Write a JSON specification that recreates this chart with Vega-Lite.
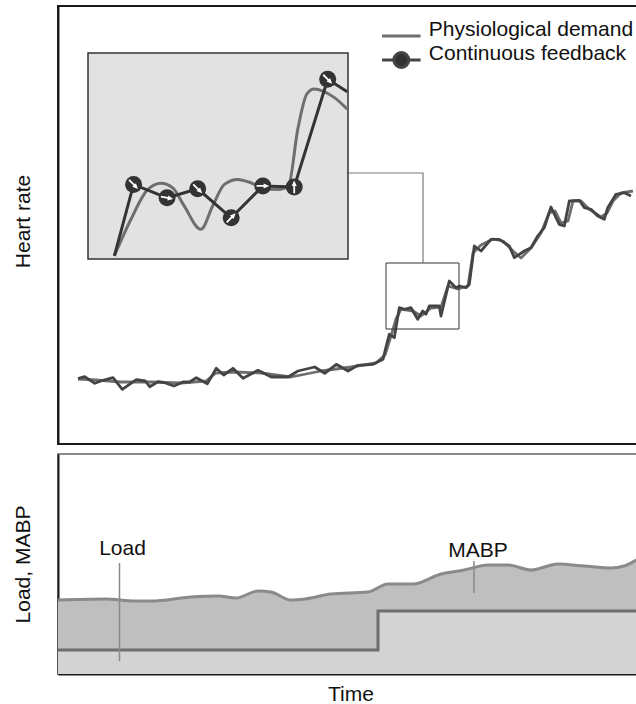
{
  "$schema": "https://vega.github.io/schema/vega-lite/v6.json",
  "padding": {"left": 11, "top": 5, "right": 0, "bottom": 0},
  "spacing": 8,
  "config": {
    "font": "Liberation Sans",
    "view": {"stroke": null},
    "axis": {"grid": false, "labels": false, "ticks": false, "titleFontSize": 21, "titleFontWeight": "normal", "titleColor": "#111111", "domainColor": "#1a1a1a", "domainWidth": 2, "zindex": 1}
  },
  "datasets": {
    "hr": [
      {"t": 20, "hr": 65, "series": "Physiological demand"},
      {"t": 38, "hr": 64, "series": "Physiological demand"},
      {"t": 63, "hr": 62, "series": "Physiological demand"},
      {"t": 93, "hr": 62, "series": "Physiological demand"},
      {"t": 123, "hr": 61, "series": "Physiological demand"},
      {"t": 148, "hr": 63, "series": "Physiological demand"},
      {"t": 158, "hr": 71, "series": "Physiological demand"},
      {"t": 178, "hr": 72, "series": "Physiological demand"},
      {"t": 203, "hr": 71, "series": "Physiological demand"},
      {"t": 233, "hr": 67, "series": "Physiological demand"},
      {"t": 263, "hr": 73, "series": "Physiological demand"},
      {"t": 293, "hr": 77, "series": "Physiological demand"},
      {"t": 318, "hr": 81, "series": "Physiological demand"},
      {"t": 327, "hr": 89, "series": "Physiological demand"},
      {"t": 333, "hr": 108, "series": "Physiological demand"},
      {"t": 338, "hr": 125, "series": "Physiological demand"},
      {"t": 343, "hr": 135, "series": "Physiological demand"},
      {"t": 355, "hr": 133, "series": "Physiological demand"},
      {"t": 363, "hr": 128, "series": "Physiological demand"},
      {"t": 373, "hr": 136, "series": "Physiological demand"},
      {"t": 383, "hr": 137, "series": "Physiological demand"},
      {"t": 390, "hr": 158, "series": "Physiological demand"},
      {"t": 400, "hr": 155, "series": "Physiological demand"},
      {"t": 410, "hr": 158, "series": "Physiological demand"},
      {"t": 415, "hr": 191, "series": "Physiological demand"},
      {"t": 423, "hr": 199, "series": "Physiological demand"},
      {"t": 435, "hr": 205, "series": "Physiological demand"},
      {"t": 445, "hr": 203, "series": "Physiological demand"},
      {"t": 455, "hr": 193, "series": "Physiological demand"},
      {"t": 463, "hr": 186, "series": "Physiological demand"},
      {"t": 473, "hr": 196, "series": "Physiological demand"},
      {"t": 483, "hr": 211, "series": "Physiological demand"},
      {"t": 491, "hr": 231, "series": "Physiological demand"},
      {"t": 497, "hr": 233, "series": "Physiological demand"},
      {"t": 503, "hr": 221, "series": "Physiological demand"},
      {"t": 510, "hr": 223, "series": "Physiological demand"},
      {"t": 515, "hr": 243, "series": "Physiological demand"},
      {"t": 523, "hr": 243, "series": "Physiological demand"},
      {"t": 531, "hr": 235, "series": "Physiological demand"},
      {"t": 543, "hr": 227, "series": "Physiological demand"},
      {"t": 549, "hr": 231, "series": "Physiological demand"},
      {"t": 555, "hr": 243, "series": "Physiological demand"},
      {"t": 563, "hr": 251, "series": "Physiological demand"},
      {"t": 575, "hr": 253, "series": "Physiological demand"},
      {"t": 20, "hr": 65.3, "series": "Continuous feedback"},
      {"t": 26.7, "hr": 67.3, "series": "Continuous feedback"},
      {"t": 36.7, "hr": 60.7, "series": "Continuous feedback"},
      {"t": 45, "hr": 63.7, "series": "Continuous feedback"},
      {"t": 55, "hr": 66.3, "series": "Continuous feedback"},
      {"t": 64.3, "hr": 54.7, "series": "Continuous feedback"},
      {"t": 78.3, "hr": 64.3, "series": "Continuous feedback"},
      {"t": 87.3, "hr": 63, "series": "Continuous feedback"},
      {"t": 91.7, "hr": 57.3, "series": "Continuous feedback"},
      {"t": 100, "hr": 62.3, "series": "Continuous feedback"},
      {"t": 106.7, "hr": 61.3, "series": "Continuous feedback"},
      {"t": 116, "hr": 58, "series": "Continuous feedback"},
      {"t": 125, "hr": 62, "series": "Continuous feedback"},
      {"t": 131.7, "hr": 62, "series": "Continuous feedback"},
      {"t": 138.3, "hr": 66.3, "series": "Continuous feedback"},
      {"t": 149.3, "hr": 60.3, "series": "Continuous feedback"},
      {"t": 158.3, "hr": 75.7, "series": "Continuous feedback"},
      {"t": 165.7, "hr": 69, "series": "Continuous feedback"},
      {"t": 175, "hr": 75.7, "series": "Continuous feedback"},
      {"t": 185, "hr": 65.7, "series": "Continuous feedback"},
      {"t": 200, "hr": 73.7, "series": "Continuous feedback"},
      {"t": 213.3, "hr": 67, "series": "Continuous feedback"},
      {"t": 230, "hr": 67, "series": "Continuous feedback"},
      {"t": 240, "hr": 73, "series": "Continuous feedback"},
      {"t": 256.7, "hr": 77, "series": "Continuous feedback"},
      {"t": 266.7, "hr": 70.7, "series": "Continuous feedback"},
      {"t": 278.3, "hr": 79.7, "series": "Continuous feedback"},
      {"t": 290, "hr": 73, "series": "Continuous feedback"},
      {"t": 300, "hr": 78.7, "series": "Continuous feedback"},
      {"t": 315, "hr": 79.7, "series": "Continuous feedback"},
      {"t": 325, "hr": 84.7, "series": "Continuous feedback"},
      {"t": 328, "hr": 97, "series": "Continuous feedback"},
      {"t": 331.3, "hr": 109.7, "series": "Continuous feedback"},
      {"t": 336.3, "hr": 106.3, "series": "Continuous feedback"},
      {"t": 341.3, "hr": 136.3, "series": "Continuous feedback"},
      {"t": 346.3, "hr": 134.7, "series": "Continuous feedback"},
      {"t": 353, "hr": 136.3, "series": "Continuous feedback"},
      {"t": 359.7, "hr": 124.7, "series": "Continuous feedback"},
      {"t": 364.7, "hr": 133, "series": "Continuous feedback"},
      {"t": 368, "hr": 129.7, "series": "Continuous feedback"},
      {"t": 371.3, "hr": 138, "series": "Continuous feedback"},
      {"t": 381.3, "hr": 138, "series": "Continuous feedback"},
      {"t": 383, "hr": 128, "series": "Continuous feedback"},
      {"t": 391.3, "hr": 163, "series": "Continuous feedback"},
      {"t": 398, "hr": 156.3, "series": "Continuous feedback"},
      {"t": 401.3, "hr": 158, "series": "Continuous feedback"},
      {"t": 408, "hr": 156.3, "series": "Continuous feedback"},
      {"t": 411.3, "hr": 159.7, "series": "Continuous feedback"},
      {"t": 416.3, "hr": 198, "series": "Continuous feedback"},
      {"t": 423, "hr": 193, "series": "Continuous feedback"},
      {"t": 433, "hr": 204.7, "series": "Continuous feedback"},
      {"t": 441.3, "hr": 204.7, "series": "Continuous feedback"},
      {"t": 451.3, "hr": 198, "series": "Continuous feedback"},
      {"t": 456.3, "hr": 186.3, "series": "Continuous feedback"},
      {"t": 461.3, "hr": 189.7, "series": "Continuous feedback"},
      {"t": 466.3, "hr": 193, "series": "Continuous feedback"},
      {"t": 473, "hr": 196.3, "series": "Continuous feedback"},
      {"t": 479.7, "hr": 208, "series": "Continuous feedback"},
      {"t": 486.3, "hr": 216.3, "series": "Continuous feedback"},
      {"t": 493, "hr": 237, "series": "Continuous feedback"},
      {"t": 498, "hr": 226.3, "series": "Continuous feedback"},
      {"t": 501.3, "hr": 219.7, "series": "Continuous feedback"},
      {"t": 506.3, "hr": 218, "series": "Continuous feedback"},
      {"t": 511.3, "hr": 243, "series": "Continuous feedback"},
      {"t": 521.3, "hr": 243.7, "series": "Continuous feedback"},
      {"t": 526.3, "hr": 236.3, "series": "Continuous feedback"},
      {"t": 533, "hr": 234.7, "series": "Continuous feedback"},
      {"t": 539.7, "hr": 228, "series": "Continuous feedback"},
      {"t": 546.3, "hr": 224.7, "series": "Continuous feedback"},
      {"t": 549.7, "hr": 236.3, "series": "Continuous feedback"},
      {"t": 558, "hr": 249.7, "series": "Continuous feedback"},
      {"t": 566.3, "hr": 251.3, "series": "Continuous feedback"},
      {"t": 573, "hr": 248, "series": "Continuous feedback"}
    ],
    "zoom": [{"t0": 328, "t1": 401, "h0": 115, "h1": 181}],
    "connector": [
      {"k": 1, "t": 290, "h": 271},
      {"k": 2, "t": 365, "h": 271},
      {"k": 3, "t": 365, "h": 181}
    ],
    "insetDemand": [
      {"t": 335.4, "hr": 116},
      {"t": 340.1, "hr": 127.8},
      {"t": 344.8, "hr": 137.3},
      {"t": 348.5, "hr": 139.3},
      {"t": 351.8, "hr": 137.8},
      {"t": 355.0, "hr": 132.0},
      {"t": 359.7, "hr": 124.5},
      {"t": 363.0, "hr": 132.0},
      {"t": 366.3, "hr": 138.9},
      {"t": 370.0, "hr": 140.5},
      {"t": 373.8, "hr": 139.4},
      {"t": 377.5, "hr": 137.5},
      {"t": 381.7, "hr": 137.3},
      {"t": 384.3, "hr": 138.5},
      {"t": 386.9, "hr": 156.6},
      {"t": 389.5, "hr": 168.0},
      {"t": 391.5, "hr": 169.5},
      {"t": 394.0, "hr": 168.8},
      {"t": 397.2, "hr": 166.7},
      {"t": 400.8, "hr": 163.0}
    ],
    "insetFeedback": [
      {"t": 335.4, "hr": 116.0},
      {"t": 340.8, "hr": 138.9, "heading": 135},
      {"t": 350.2, "hr": 134.6, "heading": 100},
      {"t": 358.8, "hr": 137.5, "heading": 135},
      {"t": 368.2, "hr": 128.2, "heading": 45},
      {"t": 377.1, "hr": 138.4, "heading": 90},
      {"t": 385.9, "hr": 138.1, "heading": 0},
      {"t": 395.3, "hr": 172.6, "heading": 135},
      {"t": 400.8, "hr": 168.6}
    ],
    "mabp": [
      {"t": 0, "v": 74}, {"t": 47, "v": 75}, {"t": 77, "v": 73}, {"t": 93, "v": 73},
      {"t": 133, "v": 77}, {"t": 160, "v": 78}, {"t": 178, "v": 76}, {"t": 200, "v": 83},
      {"t": 213, "v": 82}, {"t": 233, "v": 74}, {"t": 247, "v": 75}, {"t": 273, "v": 80},
      {"t": 310, "v": 82}, {"t": 330, "v": 90}, {"t": 355, "v": 90}, {"t": 383, "v": 100},
      {"t": 406, "v": 104}, {"t": 430, "v": 109}, {"t": 450, "v": 109}, {"t": 473, "v": 104},
      {"t": 500, "v": 110}, {"t": 526, "v": 108}, {"t": 553, "v": 106}, {"t": 566, "v": 108},
      {"t": 580, "v": 115}, {"t": 585, "v": 118}
    ],
    "load": [
      {"t": 0, "v": 24}, {"t": 320, "v": 63}, {"t": 585, "v": 63}
    ],
    "notes": [
      {"label": "Load", "tx": 64.5, "ty": 119, "lt": 61.5, "y0": 13, "y1": 111},
      {"label": "MABP", "tx": 420, "ty": 117, "lt": 416, "y0": 81, "y1": 113}
    ]
  },
  "vconcat": [
    {
      "width": 585,
      "height": 438,
      "view": {"stroke": "#1a1a1a", "strokeWidth": 2},
      "resolve": {"scale": {"x": "independent", "y": "independent"}},
      "layer": [
        {
          "layer": [
            {
              "data": {"name": "hr"},
              "mark": {"type": "line", "strokeWidth": 2.8, "strokeJoin": "round"},
              "encoding": {
                "x": {"field": "t", "type": "quantitative", "scale": {"domain": [0, 585]}, "axis": null},
                "y": {"field": "hr", "type": "quantitative", "scale": {"domain": [0, 438]}, "axis": {"title": "Heart rate", "titlePadding": 25, "titleY": 215}},
                "color": {
                  "field": "series", "type": "nominal",
                  "scale": {"domain": ["Physiological demand", "Continuous feedback"], "range": ["#6e6e6e", "#444444"]},
                  "legend": {
                    "title": null, "orient": "none", "legendX": 330.8, "legendY": 17.5, "padding": 0,
                    "rowPadding": 0, "symbolSize": 484, "symbolStrokeWidth": 3, "labelOffset": 15,
                    "labelFontSize": 21, "labelColor": "#111111", "labelLimit": 400, "labelBaseline": "alphabetic",
                    "encode": {
                      "symbols": {"update": {
                        "shape": {"signal": "datum.value === 'Continuous feedback' ? 'M-1.75,0H-0.68M0.68,0H1.75M0.68,0A0.68,0.68,0,1,1,-0.68,0A0.68,0.68,0,1,1,0.68,0' : 'M-1.75,0H1.75'"},
                        "fill": {"signal": "datum.value === 'Continuous feedback' ? '#333333' : 'transparent'"}
                      }}
                    }
                  }
                }
              }
            },
            {
              "data": {"name": "zoom"},
              "mark": {"type": "rect", "fill": null, "stroke": "#333333", "strokeWidth": 1},
              "encoding": {
                "x": {"field": "t0", "type": "quantitative", "scale": {"domain": [0, 585]}},
                "x2": {"field": "t1"},
                "y": {"field": "h0", "type": "quantitative", "scale": {"domain": [0, 438]}},
                "y2": {"field": "h1"}
              }
            },
            {
              "data": {"name": "connector"},
              "mark": {"type": "line", "color": "#7a7a7a", "strokeWidth": 1.2},
              "encoding": {
                "x": {"field": "t", "type": "quantitative", "scale": {"domain": [0, 585]}},
                "y": {"field": "h", "type": "quantitative", "scale": {"domain": [0, 438]}},
                "order": {"field": "k", "type": "quantitative"}
              }
            }
          ]
        },
        {
          "layer": [
            {
              "data": {"name": "zoom"},
              "mark": {"type": "rect", "fill": "#e2e2e2", "stroke": "#333333", "strokeWidth": 1.5},
              "encoding": {
                "x": {"field": "t0", "type": "quantitative", "scale": {"domain": [328, 401], "range": [30, 290]}, "axis": null},
                "x2": {"field": "t1"},
                "y": {"field": "h0", "type": "quantitative", "scale": {"domain": [115, 181], "range": [253, 47]}, "axis": null},
                "y2": {"field": "h1"}
              }
            },
            {
              "data": {"name": "insetDemand"},
              "mark": {"type": "line", "color": "#6e6e6e", "strokeWidth": 3, "interpolate": "monotone"},
              "encoding": {
                "x": {"field": "t", "type": "quantitative", "scale": {"domain": [328, 401], "range": [30, 290]}},
                "y": {"field": "hr", "type": "quantitative", "scale": {"domain": [115, 181], "range": [253, 47]}}
              }
            },
            {
              "data": {"name": "insetFeedback"},
              "mark": {"type": "line", "color": "#333333", "strokeWidth": 3},
              "encoding": {
                "x": {"field": "t", "type": "quantitative", "scale": {"domain": [328, 401], "range": [30, 290]}},
                "y": {"field": "hr", "type": "quantitative", "scale": {"domain": [115, 181], "range": [253, 47]}}
              }
            },
            {
              "data": {"name": "insetFeedback"},
              "transform": [{"filter": "isValid(datum.heading)"}],
              "mark": {"type": "point", "shape": "circle", "filled": true, "size": 289, "color": "#333333", "opacity": 1},
              "encoding": {
                "x": {"field": "t", "type": "quantitative", "scale": {"domain": [328, 401], "range": [30, 290]}},
                "y": {"field": "hr", "type": "quantitative", "scale": {"domain": [115, 181], "range": [253, 47]}}
              }
            },
            {
              "data": {"name": "insetFeedback"},
              "transform": [{"filter": "isValid(datum.heading)"}],
              "mark": {"type": "point", "shape": "arrow", "filled": true, "size": 160, "color": "#ffffff", "opacity": 1},
              "encoding": {
                "x": {"field": "t", "type": "quantitative", "scale": {"domain": [328, 401], "range": [30, 290]}},
                "y": {"field": "hr", "type": "quantitative", "scale": {"domain": [115, 181], "range": [253, 47]}},
                "angle": {"field": "heading", "type": "quantitative", "scale": {"domain": [0, 360], "range": [0, 360]}}
              }
            }
          ]
        }
      ]
    },
    {
      "width": 585,
      "height": 220,
      "view": {"stroke": "#8c8c8c", "strokeWidth": 2},
      "layer": [
        {
          "data": {"name": "mabp"},
          "mark": {"type": "area", "color": "#bfbfbf", "opacity": 1, "interpolate": "monotone", "line": {"color": "#8a8a8a", "strokeWidth": 3}},
          "encoding": {
            "x": {"field": "t", "type": "quantitative", "scale": {"domain": [0, 585]}, "axis": {"title": "Time", "titlePadding": 9}},
            "y": {"field": "v", "type": "quantitative", "scale": {"domain": [0, 220]}, "axis": {"title": "Load, MABP", "titlePadding": 25}}
          }
        },
        {
          "data": {"name": "load"},
          "mark": {"type": "area", "color": "#d3d3d3", "opacity": 1, "interpolate": "step-after", "line": {"color": "#6e6e6e", "strokeWidth": 3}},
          "encoding": {
            "x": {"field": "t", "type": "quantitative", "scale": {"domain": [0, 585]}},
            "y": {"field": "v", "type": "quantitative", "scale": {"domain": [0, 220]}}
          }
        },
        {
          "data": {"name": "notes"},
          "mark": {"type": "rule", "color": "#8a8a8a", "strokeWidth": 1.5},
          "encoding": {
            "x": {"field": "lt", "type": "quantitative", "scale": {"domain": [0, 585]}},
            "y": {"field": "y0", "type": "quantitative", "scale": {"domain": [0, 220]}},
            "y2": {"field": "y1"}
          }
        },
        {
          "data": {"name": "notes"},
          "mark": {"type": "text", "fontSize": 21, "color": "#111111", "align": "center", "baseline": "alphabetic"},
          "encoding": {
            "x": {"field": "tx", "type": "quantitative", "scale": {"domain": [0, 585]}},
            "y": {"field": "ty", "type": "quantitative", "scale": {"domain": [0, 220]}},
            "text": {"field": "label"}
          }
        }
      ]
    }
  ]
}
